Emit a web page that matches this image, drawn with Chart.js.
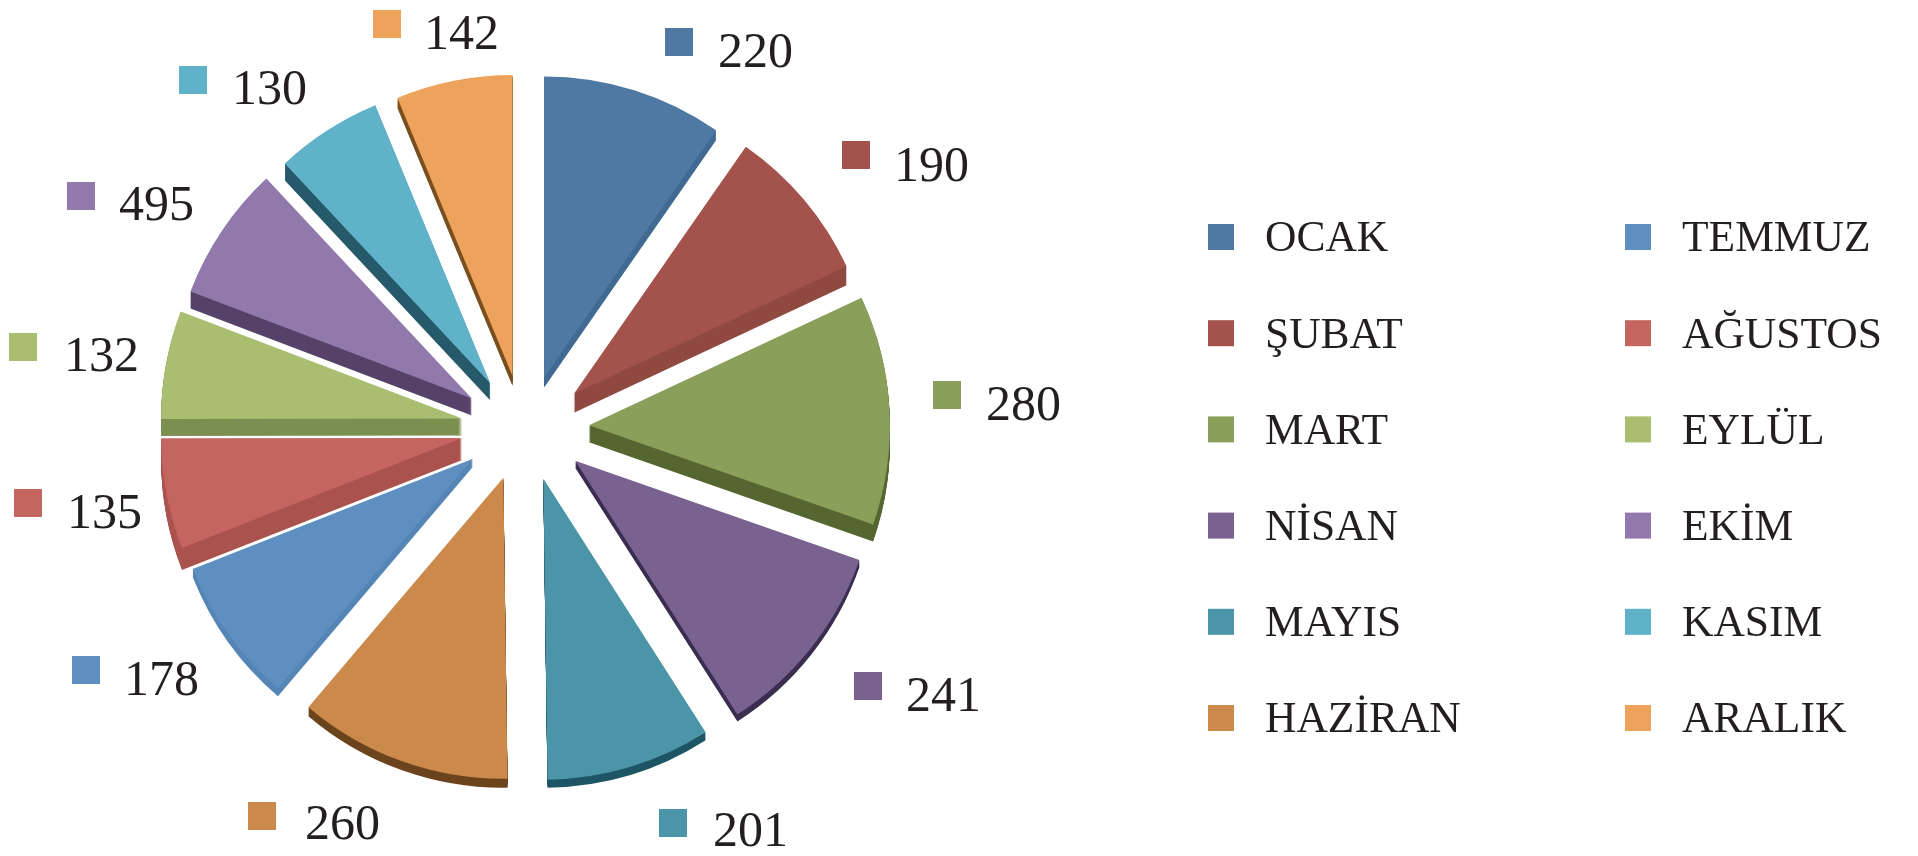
<!DOCTYPE html>
<html>
<head>
<meta charset="utf-8">
<title>Aylara göre dağılım</title>
<script src="https://cdn.jsdelivr.net/npm/chart.js@4"></script>
<style>
  html, body { margin: 0; padding: 0; background: #fff; }
  canvas { display: block; }
</style>
</head>
<body>
<canvas id="myChart" width="1918" height="856"></canvas>
<script>
"use strict";

const months = ["OCAK", "ŞUBAT", "MART", "NİSAN", "MAYIS", "HAZİRAN", "TEMMUZ", "AĞUSTOS", "EYLÜL", "EKİM", "KASIM", "ARALIK"];
// EKİM is printed as 495 on the picture but its slice is only about 165 wide
const sliceValues = [220, 190, 280, 241, 201, 260, 178, 135, 132, 165, 130, 142];
const printedValues = ["220", "190", "280", "241", "201", "260", "178", "135", "132", "495", "130", "142"];

const faceColors = ["#4f79a3", "#a3534c", "#8a9f5a", "#79628f", "#4c95a9", "#cb8a4c", "#5e8fc0", "#c5655f", "#a9be70", "#9279ac", "#60b2c8", "#eea35c"];
const sideColors = ["#416a92", "#8f4940", "#566630", "#3a2d50", "#1e5565", "#6b431c", "#5485b5", "#aa524e", "#7b9050", "#564268", "#265a6a", "#7a4f20"];
// height of the slice side, the reference is not a regular 3D pie
const sideDepths = [10, 19, 17, 7, 8, 9, 8, 22, 17, 17, 17, 10];

// little square + number next to each slice, [marker x, marker y, text x, text y]
const labelSpots = [
  [679, 42, 718, 54], [856, 155, 894, 168], [947, 395, 986, 407], [868, 686, 906, 698],
  [673, 823, 713, 833], [262, 816, 305, 826], [86, 670, 124, 682], [28, 503, 67, 515],
  [23, 347, 64, 358], [81, 196, 119, 207], [193, 80, 232, 91], [387, 24, 424, 36]
];

const pushX = 64; // how far the slices are pulled out of the pie
const pushY = 53;

function pushed(arc) {
  const mid = (arc.startAngle + arc.endAngle) / 2;
  return [Math.cos(mid) * pushX, Math.sin(mid) * pushY];
}

const explodedPie = {
  id: "explodedPie",
  beforeDatasetDraw(chart, args) {
    const ctx = chart.ctx;
    const arcs = chart.getDatasetMeta(args.index).data;

    // side of the slice first, faces go on top
    arcs.forEach((arc, i) => {
      const [dx, dy] = pushed(arc);
      ctx.fillStyle = sideColors[i];
      for (let d = 1; d <= sideDepths[i]; d++) {
        ctx.beginPath();
        ctx.moveTo(arc.x + dx, arc.y + dy + d);
        ctx.arc(arc.x + dx, arc.y + dy + d, arc.outerRadius, arc.startAngle, arc.endAngle);
        ctx.closePath();
        ctx.fill();
      }
    });

    arcs.forEach((arc) => {
      const [dx, dy] = pushed(arc);
      ctx.save();
      ctx.translate(dx, dy);
      arc.draw(ctx);
      ctx.restore();
    });
    return false;
  },
  afterDraw(chart) {
    const ctx = chart.ctx;
    ctx.save();
    ctx.textBaseline = "middle";
    ctx.textAlign = "left";

    // values
    ctx.font = '50px "Liberation Serif"';
    printedValues.forEach((txt, i) => {
      const s = labelSpots[i];
      ctx.fillStyle = faceColors[i];
      ctx.fillRect(s[0] - 14, s[1] - 14, 28, 28);
      ctx.fillStyle = "#231f20";
      ctx.fillText(txt, s[2], s[3]);
    });

    // legend, two columns of six
    ctx.font = '43.5px "Liberation Serif"';
    months.forEach((name, i) => {
      const col = i < 6 ? 0 : 1;
      const row = i % 6;
      const y = 237 + row * 96.2;
      const boxX = col === 0 ? 1208 : 1625;
      const textX = col === 0 ? 1265 : 1682;
      ctx.fillStyle = faceColors[i];
      ctx.fillRect(boxX, y - 13, 26, 26);
      ctx.fillStyle = "#231f20";
      ctx.fillText(name, textX, y + 3);
    });
    ctx.restore();
  }
};

const ctx = document.getElementById("myChart").getContext("2d");
const myChart = new Chart(ctx, {
  type: "pie",
  data: {
    labels: months,
    datasets: [{
      data: sliceValues,
      backgroundColor: faceColors,
      borderWidth: 0
    }]
  },
  options: {
    responsive: false,
    animation: false,
    radius: 301,
    layout: { padding: { left: 0, right: 868, top: 4, bottom: 4 } },
    plugins: {
      legend: { display: false },
      tooltip: { enabled: false }
    }
  },
  plugins: [explodedPie]
});
</script>
</body>
</html>
